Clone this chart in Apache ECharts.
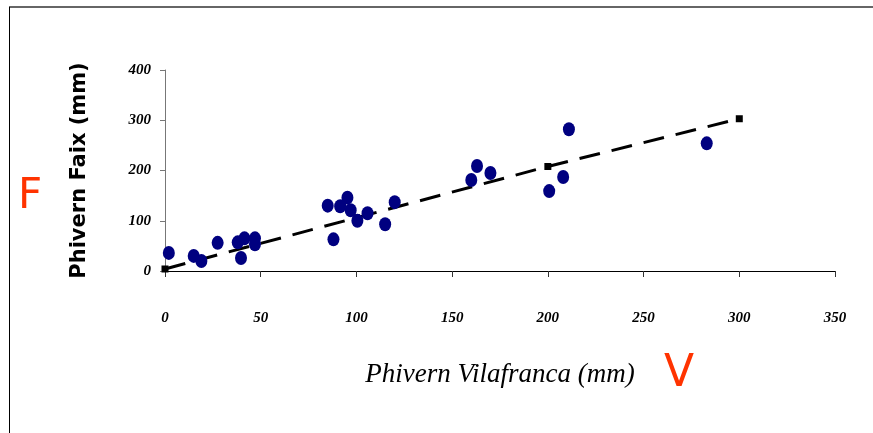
<!DOCTYPE html>
<html>
<head>
<meta charset="utf-8">
<script src="https://cdn.jsdelivr.net/npm/echarts@6/dist/echarts.min.js"></script>
<style>
  html, body { margin: 0; padding: 0; background: #fff; }
  #main { width: 873px; height: 433px; }
</style>
</head>
<body>
<div id="main"></div>
<script>
// rainfall Vilafranca (x) vs Faix (y), mm
const vilafranca = [2, 15, 19, 27.5, 38, 41.5, 47, 47, 39.7, 88, 85, 91.5, 95.3, 97, 100.5, 105.8, 115, 120, 160, 163, 170, 200.7, 208, 211, 283];
const faix = [36, 30, 20, 56, 57, 65, 65, 53, 26, 63, 130, 129, 146, 121, 100, 115, 93, 137, 181, 209, 195, 159, 187, 282, 254];

// fitted line
const fitX = [0, 100, 200, 300];
const fitY = [4, 106, 208, 303];

const xTicks = [0, 50, 100, 150, 200, 250, 300, 350];
const yTicks = [0, 100, 200, 300, 400];

const points = vilafranca.map((v, i) => [v, faix[i]]);
const fitLine = fitX.map((v, i) => [v, fitY[i]]);

const scriptFont = "'Liberation Serif', 'DejaVu Serif', serif";

const chart = echarts.init(document.getElementById("main"));
chart.setOption({
  animation: false,
  backgroundColor: "#fff",
  grid: { left: 165, right: 38, top: 70, bottom: 162 },
  xAxis: {
    type: "value",
    min: xTicks[0],
    max: xTicks[xTicks.length - 1],
    interval: 50,
    splitLine: { show: false },
    axisLine: { lineStyle: { color: "#000", width: 1 } },
    axisTick: { length: 6, lineStyle: { color: "#333" } },
    axisLabel: {
      margin: 40,
      color: "#000",
      fontFamily: scriptFont,
      fontStyle: "italic",
      fontWeight: "bold",
      fontSize: 15
    },
    name: "Phivern Vilafranca (mm)",
    nameLocation: "middle",
    nameGap: 90,
    nameTextStyle: {
      color: "#000",
      fontFamily: scriptFont,
      fontStyle: "italic",
      fontSize: 27
    }
  },
  yAxis: {
    type: "value",
    min: yTicks[0],
    max: yTicks[yTicks.length - 1],
    interval: 100,
    splitLine: { show: false },
    axisLine: { show: true, lineStyle: { color: "#777", width: 1 } },
    axisTick: { show: true, length: 5, lineStyle: { color: "#777" } },
    axisLabel: {
      margin: 14,
      color: "#000",
      fontFamily: scriptFont,
      fontStyle: "italic",
      fontWeight: "bold",
      fontSize: 15
    },
    name: "Phivern Faix (mm)",
    nameLocation: "middle",
    nameGap: 75,
    nameRotate: 90,
    nameTextStyle: {
      color: "#000",
      fontFamily: "'DejaVu Sans', sans-serif",
      fontWeight: "bold",
      fontSize: 21
    }
  },
  series: [
    {
      type: "line",
      data: fitLine,
      symbol: "rect",
      symbolSize: 7,
      itemStyle: { color: "#000" },
      lineStyle: { color: "#000", width: 3, type: [21, 12] },
      z: 2
    },
    {
      type: "scatter",
      data: points,
      symbol: "circle",
      symbolSize: [12, 14],
      itemStyle: { color: "#000080", opacity: 1 },
      z: 3
    }
  ],
  graphic: [
    { type: "line", shape: { x1: 9, y1: 7, x2: 873, y2: 7 }, style: { stroke: "#666", lineWidth: 2 } },
    { type: "line", shape: { x1: 9.5, y1: 7, x2: 9.5, y2: 433 }, style: { stroke: "#000", lineWidth: 1 } },
    { type: "text", left: 18, top: 176, style: { text: "F", fill: "#ff3300", font: "42px 'DejaVu Sans', sans-serif" } },
    { type: "text", left: 664, top: 353, style: { text: "V", fill: "#ff3300", font: "44px 'DejaVu Sans', sans-serif" } }
  ]
});
</script>
</body>
</html>
